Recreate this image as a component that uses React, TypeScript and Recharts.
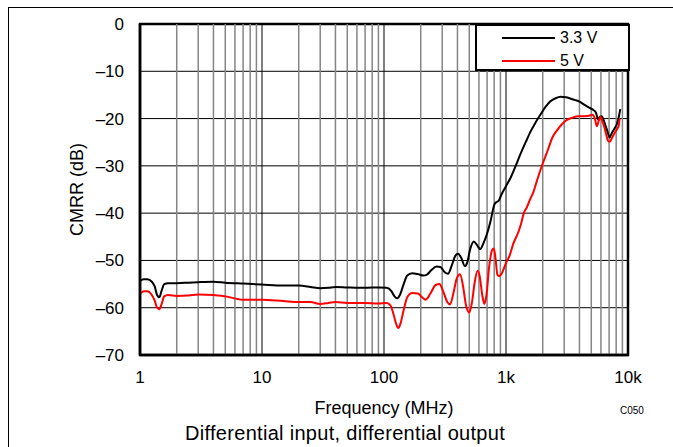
import React from "react";
import { LineChart, Line, XAxis, YAxis, CartesianGrid, ReferenceLine, ReferenceArea, Legend } from "recharts";

// Frequency (MHz) and CMRR (dB), 3.3 V supply
const freq33 = [
  1, 1.08, 1.15, 1.25, 1.32, 1.38, 1.44, 1.5, 1.58, 1.7, 2, 2.5, 3, 4, 5, 7, 10, 15, 20, 25, 30, 35, 40, 50, 70, 90,
  105, 115, 122, 128, 135, 145, 155, 170, 190, 210, 225, 245, 270, 290, 315, 335, 360, 385, 405, 430, 460, 480, 510,
  545, 580, 615, 650, 700, 750, 800, 830, 870, 920, 1000, 1100, 1200, 1300, 1450, 1600, 1750, 1900, 2100, 2300, 2550,
  2800, 3100, 3400, 3700, 4000, 4400, 4800, 5200, 5450, 5700, 5900, 6100, 6300, 6500, 6800, 7050, 7400, 7800, 8100,
  8350, 8500, 8650,
];
const cmrr33 = [
  -54.3, -54.0, -54.0, -54.5, -55.5, -57.3, -57.8, -56.5, -55.0, -54.8, -54.8, -54.7, -54.6, -54.5, -54.7, -54.9,
  -55.1, -55.3, -55.3, -55.6, -55.9, -55.8, -55.6, -55.7, -55.8, -55.7, -55.8, -56.5, -57.6, -58.0, -57.3, -55.0,
  -53.2, -52.7, -52.9, -53.2, -53.0, -52.0, -51.3, -51.4, -52.5, -52.8, -51.0, -49.0, -48.6, -49.5, -51.2, -50.5,
  -47.5, -46.0, -46.8, -47.6, -46.5, -44.3, -41.5, -38.3, -37.7, -37.4, -36.0, -34.3, -32.3, -30.0, -27.8, -25.0,
  -22.6, -20.8, -19.3, -17.6, -16.4, -15.7, -15.4, -15.5, -15.8, -16.1, -16.4, -17.1, -17.7, -18.2, -18.7, -20.2,
  -19.6, -19.5, -20.3, -21.3, -22.8, -24.0, -23.0, -22.0, -21.2, -20.0, -19.0, -18.0,
];

// 5 V supply
const freq5 = [
  1, 1.08, 1.15, 1.25, 1.32, 1.38, 1.44, 1.5, 1.58, 1.7, 2, 2.5, 3, 4, 5, 7, 10, 15, 20, 25, 30, 35, 40, 50, 70, 90,
  105, 113, 120, 126, 131, 137, 145, 155, 170, 190, 205, 220, 240, 265, 285, 305, 330, 348, 370, 395, 420, 445, 470,
  500, 525, 555, 585, 610, 640, 665, 690, 730, 770, 795, 820, 850, 880, 930, 1000, 1070, 1150, 1250, 1320, 1400, 1480,
  1570, 1680, 1800, 2000, 2200, 2400, 2600, 2850, 3100, 3500, 3900, 4400, 4800, 5100, 5350, 5550, 5750, 5950, 6150,
  6350, 6600, 6900, 7100, 7450, 7800, 8150, 8400, 8500, 8600,
];
const cmrr5 = [
  -57.0, -56.5, -56.5, -57.3, -58.5, -60.0, -60.3, -59.3, -57.6, -57.3, -57.5, -57.4, -57.2, -57.3, -57.6, -58.3,
  -58.3, -58.6, -58.8, -58.8, -59.2, -59.0, -58.8, -59.0, -59.0, -59.1, -59.0, -59.5, -61.5, -63.5, -64.3, -63.2,
  -60.5, -57.8, -56.9, -57.0, -57.8, -58.3, -57.0, -55.2, -55.0, -56.5, -58.8, -59.3, -57.0, -53.8, -52.9, -55.5,
  -59.5, -61.0, -59.0, -54.5, -52.2, -53.5, -57.5, -59.2, -57.5, -51.0, -47.8, -47.5, -49.5, -53.0, -53.3, -52.6,
  -50.5, -49.0, -46.4, -44.3, -42.5, -40.0, -38.8, -37.2, -35.5, -33.0, -29.5, -26.7, -24.0, -22.6, -21.3, -20.4,
  -19.8, -19.5, -19.5, -19.4, -19.2, -20.0, -21.6, -20.5, -19.6, -20.5, -21.5, -23.2, -24.8, -24.9, -23.9, -23.0,
  -22.2, -21.5, -20.3, -20.0,
];

const seriesNames = ["3.3 V", "5 V"];
const seriesColors = ["#000000", "#ff0000"];

const xTicks = [1, 10, 100, 1000, 10000];
const xTickLabels = ["1", "10", "100", "1k", "10k"];
const yTicks = [-70, -60, -50, -40, -30, -20, -10, 0];

const decades = [1, 10, 100, 1000];
const minorSteps = [2, 3, 4, 5, 6, 7, 8, 9];

const font = "'Liberation Sans', Arial, sans-serif";

const data33 = freq33.map((f, i) => ({ f, db: cmrr33[i] }));
const data5 = freq5.map((f, i) => ({ f, db: cmrr5[i] }));

const LegendBox = () => (
  <div
    style={{
      width: 155,
      height: 47,
      border: "2px solid #000",
      boxSizing: "border-box",
      background: "#fff",
      position: "relative",
      fontFamily: font,
      fontSize: 16,
      color: "#000",
    }}
  >
    {seriesNames.map((name, i) => (
      <div key={name} style={{ position: "absolute", left: 25, top: 2 + i * 23, height: 20, display: "flex", alignItems: "center" }}>
        <div style={{ width: 53, height: 2, background: seriesColors[i] }} />
        <span style={{ marginLeft: 5, lineHeight: "20px" }}>{name}</span>
      </div>
    ))}
  </div>
);

export default function App() {
  const fmtX = (v: number) => xTickLabels[xTicks.indexOf(v)] ?? String(v);
  const fmtY = (v: number) => (v === 0 ? "0" : "\u2013" + Math.abs(v));

  return (
    <div style={{ position: "absolute", left: 0, top: 0, width: 673, height: 447, background: "#fff", fontFamily: font }}>
      {/* frame of the original figure */}
      <div style={{ position: "absolute", left: 8, top: 7, width: 680, height: 460, borderTop: "1.5px solid #000", borderLeft: "1.5px solid #000" }} />
      <LineChart width={673} height={447} margin={{ top: 24, right: 45, bottom: 52, left: 80 }}>
        <CartesianGrid horizontal vertical={false} stroke="#000" strokeWidth={1} />
        {decades.flatMap((d) =>
          minorSteps.map((m) => (
            <ReferenceLine key={`m${d * m}`} x={d * m} stroke="#858585" strokeWidth={1.5} />
          ))
        )}
        {[10, 100, 1000].map((v) => (
          <ReferenceLine key={`M${v}`} x={v} stroke="#000" strokeWidth={1} />
        ))}
        <XAxis
          dataKey="f"
          type="number"
          scale="log"
          domain={[1, 10000]}
          allowDataOverflow
          ticks={xTicks}
          tickFormatter={fmtX}
          tickLine={false}
          tickMargin={10}
          axisLine={{ stroke: "#000", strokeWidth: 2.5 }}
          tick={{ fill: "#000", fontSize: 17, fontFamily: font }}
          height={40}
          label={{ value: "Frequency (MHz)", position: "bottom", offset: 6, fill: "#000", fontSize: 18, fontFamily: font }}
        />
        <YAxis
          type="number"
          domain={[-70, 0]}
          ticks={yTicks}
          tickFormatter={fmtY}
          tickLine={false}
          tickMargin={10}
          axisLine={{ stroke: "#000", strokeWidth: 2.5 }}
          tick={{ fill: "#000", fontSize: 17, fontFamily: font }}
          width={60}
          label={{
            value: "CMRR (dB)",
            angle: -90,
            position: "insideLeft",
            offset: -3,
            fill: "#000",
            fontSize: 18,
            fontFamily: font,
            style: { textAnchor: "middle" },
          }}
        />
        <Line data={data33} dataKey="db" name={seriesNames[0]} type="monotone" stroke={seriesColors[0]} strokeWidth={2} dot={false} isAnimationActive={false} />
        <Line data={data5} dataKey="db" name={seriesNames[1]} type="monotone" stroke={seriesColors[1]} strokeWidth={2} dot={false} isAnimationActive={false} />
        <ReferenceArea x1={1} x2={10000} y1={-70} y2={0} fill="none" stroke="#000" strokeWidth={2.5} ifOverflow="visible" />
        <Legend
          layout="horizontal"
          verticalAlign="middle"
          align="center"
          content={<LegendBox />}
          wrapperStyle={{ position: "absolute", left: 475, top: 24, width: 155, height: 47 }}
        />
      </LineChart>
      <div style={{ position: "absolute", left: 620, top: 405, fontSize: 10, color: "#000", fontFamily: font }}>C050</div>
      <div style={{ position: "absolute", left: 185, top: 422, fontSize: 20, letterSpacing: 0.3, color: "#000", fontFamily: font, whiteSpace: "nowrap" }}>
        Differential input, differential output
      </div>
    </div>
  );
}
